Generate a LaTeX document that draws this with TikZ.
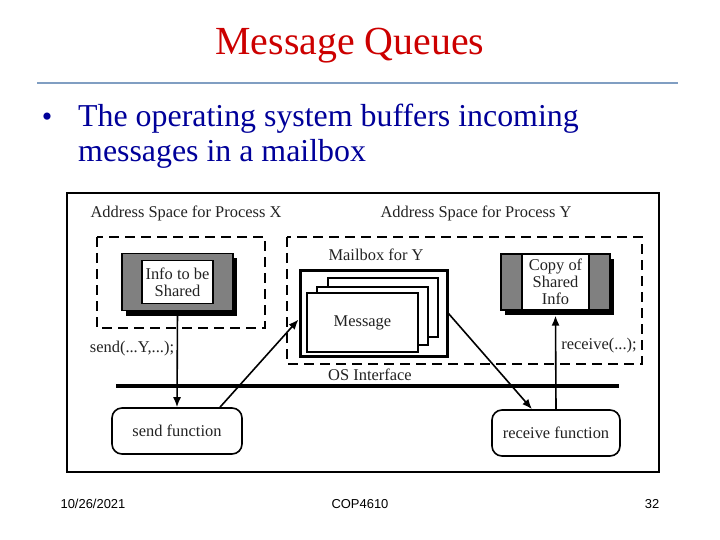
\documentclass[tikz,border=0pt]{standalone}
\usepackage{fontspec}
\setmainfont{Liberation Serif}
\newfontfamily\footfont{Liberation Sans}
\usetikzlibrary{arrows.meta,shadows}
\definecolor{mqred}{HTML}{CC0000}
\definecolor{mqblue}{HTML}{000099}
\definecolor{mqrule}{HTML}{809EC2}
\definecolor{mqink}{HTML}{222222}
\definecolor{mqgray}{HTML}{808080}
\tikzset{
  slidetitle/.style={font=\fontsize{40}{44}\selectfont,text=mqred},
  bodytext/.style={font=\fontsize{32}{35}\selectfont,text=mqblue},
  lbl/.style={font=\fontsize{16.5}{17}\selectfont,text=mqink,inner sep=1bp},
  frame/.style={draw=black,line width=2.6bp},
  region/.style={draw=black,line width=2.2bp,dash pattern=on 10bp off 6bp},
  sharedbox/.style={rectangle,draw=black,fill=mqgray,line width=1.2bp,
    drop shadow={shadow xshift=3.5bp,shadow yshift=-5bp,fill=black,opacity=1}},
  sharedtext/.style={rectangle,draw=black,fill=white,line width=1.2bp,align=center,
    font=\fontsize{16.5}{17}\selectfont,text=mqink,inner sep=0bp},
  msg/.style={rectangle,draw=black,fill=white,line width=1.4bp,minimum width=111bp,minimum height=59bp},
  fnbox/.style={rectangle,rounded corners=10bp,draw=black,line width=1.6bp,
    font=\fontsize{16.5}{17}\selectfont,text=mqink},
  flow/.style={-{Latex[length=10bp,width=8bp]},draw=black,line width=1.6bp},
  osline/.style={draw=black,line width=4.5bp},
  foot/.style={font=\footfont\fontsize{13}{14}\selectfont,text=black},
}
\begin{document}
\begin{tikzpicture}[x=1bp,y=-1bp]
  \useasboundingbox (0,0) rectangle (720,540);

  % ---------------- slide head ----------------
  \node[slidetitle,anchor=base] (title) at (350,55) {Message Queues};
  \draw[mqrule,line width=2bp] (37,83) -- (678,83);
  \node[bodytext,font=\fontsize{30}{30}\selectfont,anchor=base] (bullet) at (47,127) {\textbullet};
  \node[bodytext,anchor=base west,inner sep=0pt] (body1) at (78,127) {The operating system buffers incoming};
  \node[bodytext,anchor=base west,inner sep=0pt] (body2) at (78,162) {messages in a mailbox};

  % ---------------- diagram ----------------
  \draw[frame] (67,193) rectangle (659,472);
  \node[lbl] (spaceX) at (186,213) {Address Space for Process X};
  \node[lbl] (spaceY) at (476,213) {Address Space for Process Y};
  \draw[region] (97,237) rectangle (265,328);
  \draw[region] (287,237) rectangle (642,364);

  % process X
  \node[sharedbox,minimum width=111bp,minimum height=57bp] (infoX) at (177.5,282) {};
  \node[sharedtext,minimum width=71bp,minimum height=43bp] (info) at (infoX) {Info to be\\Shared};
  \node[lbl] (send) at (132,349) {send(...Y,...);};

  % mailbox of Y
  \node[lbl] (mbox) at (376,255) {Mailbox for Y};
  \node[rectangle,draw=black,line width=3bp,minimum width=147bp,minimum height=85bp] (mailbox) at (373.5,313.5) {};
  \node[msg,minimum width=110bp] (msgC) at (383,307.5) {};
  \node[msg,minimum height=58bp] (msgB) at (372.5,316) {};
  \node[msg,lbl,draw=black,line width=1.4bp] (msgA) at (362.5,322.5) {Message};

  % process Y
  \node[sharedbox,minimum width=109bp,minimum height=56bp] (copyY) at (555.5,282) {};
  \node[sharedtext,minimum width=67bp,minimum height=56bp] (copy) at (copyY) {Copy of\\Shared\\Info};
  \node[lbl] (recv) at (599,346) {receive(...);};

  % OS interface
  \node[lbl] (osif) at (370,375) {OS Interface};
  \draw[osline] (116,386) -- (619,386);

  \node[fnbox,minimum width=130bp,minimum height=46bp] (sendfn) at (177,431) {send function};
  \node[fnbox,minimum width=128bp,minimum height=46bp] (recvfn) at (556,433) {receive function};

  \draw[flow] (infoX.south) -- (sendfn.north);
  \draw[flow] ([xshift=43bp]sendfn.north) -- ([yshift=-6bp]mailbox.west);
  \draw[flow] (mailbox.east) -- ([xshift=-24bp]recvfn.north);
  \draw[flow] (recvfn.north) -- ([yshift=-5bp]copyY.south);

  % ---------------- footer ----------------
  \node[foot] (date) at (93,504) {10/26/2021};
  \node[foot] (course) at (360,504) {COP4610};
  \node[foot] (page) at (652,504) {32};
\end{tikzpicture}
\end{document}
